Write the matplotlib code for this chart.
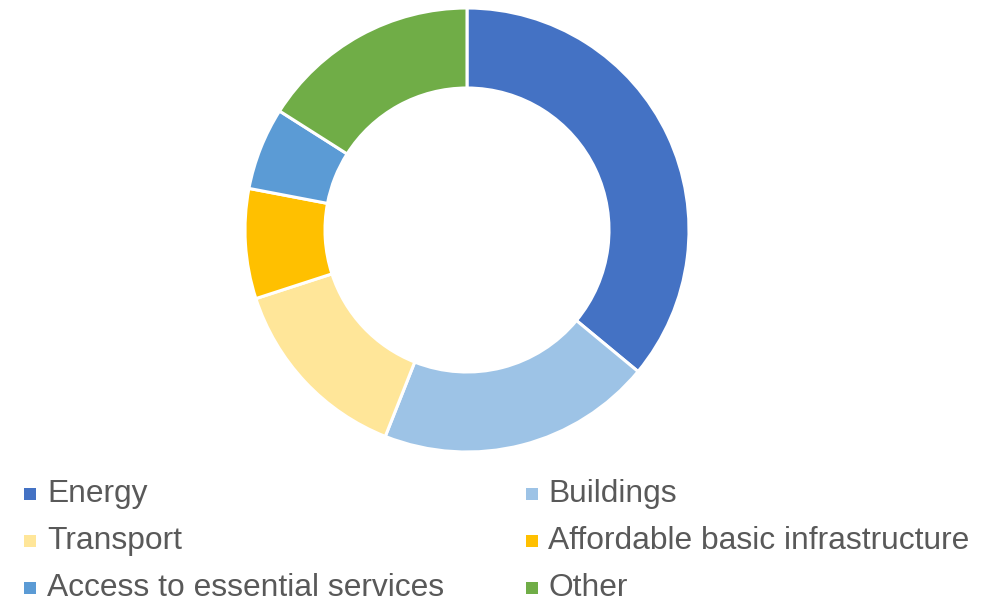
import matplotlib
matplotlib.use("Agg")
import matplotlib.pyplot as plt
from matplotlib.patches import Rectangle

categories = ["Energy", "Buildings", "Transport", "Affordable basic infrastructure",
              "Access to essential services", "Other"]
values = [36, 20, 14, 8, 6, 16]
colors = ["#4472C4", "#9DC3E6", "#FFE699", "#FFC000", "#5B9BD5", "#70AD47"]

W, H = 1000, 600
fig = plt.figure(figsize=(10, 6), dpi=100)
fig.patch.set_facecolor("white")

# donut axes: center (467,230) px, outer radius 222 px
cx, cy, r = 467, 230, 222
ax = fig.add_axes([(cx - r) / W, 1 - (cy + r) / H, 2 * r / W, 2 * r / H])
ax.pie(values, colors=colors, startangle=90, counterclock=False, radius=1,
       wedgeprops=dict(width=80 / 222, edgecolor="white", linewidth=2.2))
ax.set_xlim(-1, 1)
ax.set_ylim(-1, 1)
ax.set_aspect("equal")
ax.axis("off")

# legend (two columns, row-major)
col_sq_x = [30, 531.5]
col_tx_x = [47, 548]
row_y = [494, 541, 588]
sq = 12
for i, (lab, col) in enumerate(zip(categories, colors)):
    c = i % 2
    rr = i // 2
    x0 = col_sq_x[c] - sq / 2
    y0 = row_y[rr] + sq / 2
    fig.patches.append(Rectangle((x0 / W, 1 - y0 / H), sq / W, sq / H,
                                 transform=fig.transFigure, facecolor=col,
                                 edgecolor="none"))
    fig.text(col_tx_x[c] / W, 1 - (row_y[rr] + 8) / H, lab,
             fontsize=22.9, family="Liberation Sans", color="#595959",
             ha="left", va="baseline")

fig.savefig("out.png", dpi=100, facecolor="white")
